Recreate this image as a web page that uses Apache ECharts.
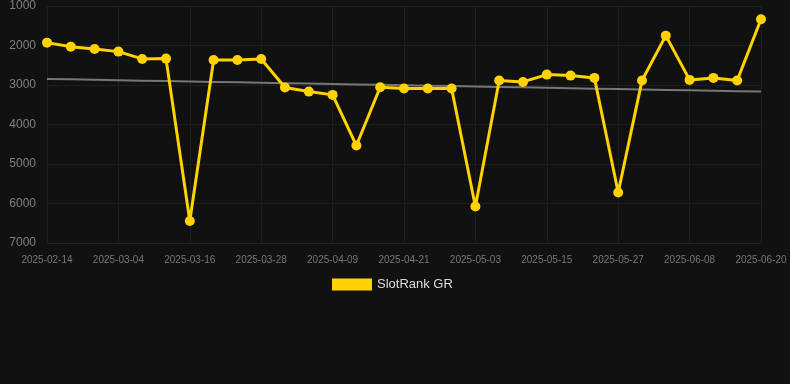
<!DOCTYPE html>
<html><head><meta charset="utf-8">
<script src="https://cdn.jsdelivr.net/npm/echarts@6/dist/echarts.min.js"></script>
<style>html,body{margin:0;padding:0;background:#111111;}#c{width:790px;height:384px;}</style>
</head><body><div id="c"></div>
<script>
var categories = ['2025-02-14','2025-02-20','2025-02-26','2025-03-04','2025-03-08','2025-03-12','2025-03-16','2025-03-20','2025-03-24','2025-03-28','2025-04-01','2025-04-05','2025-04-09','2025-04-13','2025-04-17','2025-04-21','2025-04-25','2025-04-29','2025-05-03','2025-05-07','2025-05-11','2025-05-15','2025-05-19','2025-05-23','2025-05-27','2025-05-31','2025-06-04','2025-06-08','2025-06-12','2025-06-16','2025-06-20'];
var rankValues = [1928,2029,2087,2155,2340,2332,6445,2365,2365,2340,3065,3167,3250,4532,3057,3090,3090,3090,6074,2888,2922,2737,2762,2820,5720,2888,1750,2871,2820,2888,1337];
var seriesName = 'SlotRank GR';

// linear regression trend
var n = rankValues.length, sx=0, sy=0, sxy=0, sxx=0;
for (var i=0;i<n;i++){sx+=i;sy+=rankValues[i];sxy+=i*rankValues[i];sxx+=i*i;}
var slope=(n*sxy-sx*sy)/(n*sxx-sx*sx), icpt=(sy-slope*sx)/n;
var trend = rankValues.map(function(_,i){return icpt+slope*i;});

var font = 'Liberation Sans, Arial, sans-serif';
var chart = echarts.init(document.getElementById('c'));
chart.setOption({
  backgroundColor:'#111111',
  animation:false,
  grid:{left:47,right:29,top:6,bottom:141},
  legend:{data:[{name:seriesName}],top:273,left:327,itemWidth:40,itemHeight:12,itemGap:10,
    icon:'rect',textStyle:{color:'#dddddd',fontSize:13,fontFamily:font}},
  xAxis:{type:'category',data:categories,boundaryGap:false,
    axisLine:{show:true,lineStyle:{color:'#262626'}},axisTick:{show:false},
    axisLabel:{interval:2,color:'#777777',fontSize:10,fontFamily:font,margin:12},
    splitLine:{show:true,interval:2,lineStyle:{color:'#1e1e1e'}}},
  yAxis:{type:'value',inverse:true,min:1000,max:7000,interval:1000,
    axisLine:{show:false},axisTick:{show:false},
    axisLabel:{color:'#808080',fontSize:12,fontFamily:font,margin:11,
      formatter:function(v){return String(v);}},
    splitLine:{lineStyle:{color:'#1e1e1e'}}},
  series:[
    {name:seriesName,type:'line',data:rankValues,color:'#FFD200',
     lineStyle:{width:3,color:'#FFD200'},symbol:'circle',symbolSize:10,
     itemStyle:{color:'#FFD200'},z:3},
    {name:'trend',type:'line',data:trend,symbol:'none',
     lineStyle:{width:2,color:'#777777'},itemStyle:{color:'#777777'},z:2,silent:true}
  ]
});
</script></body></html>
